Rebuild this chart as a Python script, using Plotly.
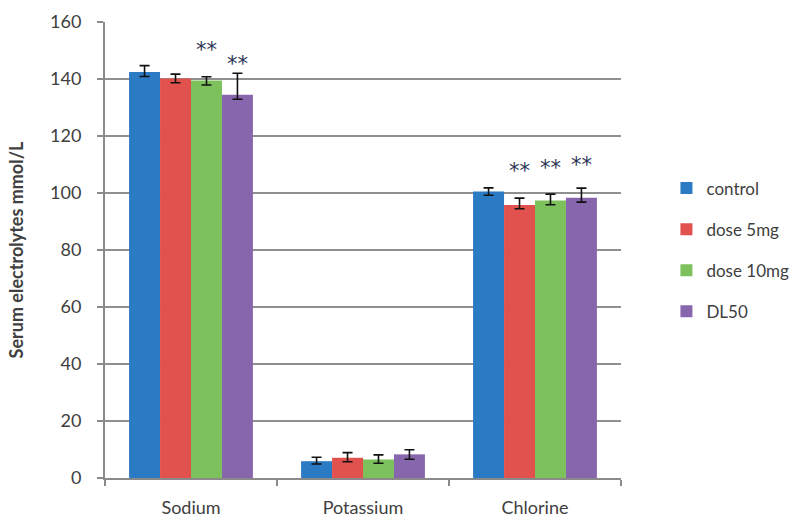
import plotly.graph_objects as go

categories = ["Sodium", "Potassium", "Chlorine"]
series_names = ["control", "dose 5mg", "dose 10mg", "DL50"]
colors = ["#2b7bc4", "#e1524f", "#7cc15c", "#8866ae"]

control = [142.5, 5.9, 100.5]
dose_5mg = [140.2, 7.1, 95.8]
dose_10mg = [139.5, 6.5, 97.4]
dl50 = [134.5, 8.3, 98.3]

err_plus_control = [2.2, 1.4, 1.3]
err_minus_control = [1.6, 1.0, 1.3]
err_plus_5mg = [1.5, 1.8, 2.4]
err_minus_5mg = [1.5, 1.4, 1.3]
err_plus_10mg = [1.3, 1.6, 2.2]
err_minus_10mg = [1.6, 1.3, 1.5]
err_plus_dl50 = [7.5, 1.6, 3.4]
err_minus_dl50 = [1.6, 1.7, 1.5]

# significance marks ("**") and the height where each one sits
stars_control = [None, None, None]
stars_5mg = [None, None, 107.0]
stars_10mg = [149.5, None, 108.3]
stars_dl50 = [144.5, None, 109.3]

values = [control, dose_5mg, dose_10mg, dl50]
err_plus = [err_plus_control, err_plus_5mg, err_plus_10mg, err_plus_dl50]
err_minus = [err_minus_control, err_minus_5mg, err_minus_10mg, err_minus_dl50]
stars = [stars_control, stars_5mg, stars_10mg, stars_dl50]

FONT = "Lato"
TEXT = "#404040"
STAR = "#2b3556"

fig = go.Figure()
for i, name in enumerate(series_names):
    fig.add_trace(go.Bar(
        x=categories, y=values[i], name=name,
        marker=dict(color=colors[i], line=dict(width=0)),
        error_y=dict(type="data", symmetric=False, array=err_plus[i],
                     arrayminus=err_minus[i], color="#111111",
                     thickness=1.6, width=5),
        legendgroup=name,
    ))

for i, name in enumerate(series_names):
    fig.add_trace(go.Scatter(
        x=categories, y=stars[i], mode="text",
        text=["**" if s is not None else "" for s in stars[i]],
        textposition="middle center",
        textfont=dict(family="DejaVu Sans", size=21, color=STAR),
        marker=dict(color=STAR),
        showlegend=False, hoverinfo="skip", cliponaxis=False,
    ))

fig.update_layout(
    width=801, height=526,
    margin=dict(l=105, r=180, t=22, b=48),
    paper_bgcolor="white", plot_bgcolor="white",
    barmode="group", bargap=0.28, bargroupgap=0,
    scattermode="group", scattergap=0.28,
    font=dict(family=FONT, color=TEXT, size=17),
    legend=dict(xref="container", x=0.832, xanchor="left",
                y=0.5, yanchor="middle",
                traceorder="grouped", tracegroupgap=16,
                font=dict(family=FONT, size=17, color=TEXT),
                itemwidth=30, bgcolor="rgba(0,0,0,0)"),
    showlegend=True,
)

fig.update_xaxes(
    automargin=False,
    showline=True, linecolor="#8a8a8a", linewidth=2,
    ticks="outside", tickson="boundaries", ticklen=6,
    tickcolor="#8a8a8a", tickwidth=1.5,
    tickfont=dict(family=FONT, size=18, color=TEXT),
    ticklabelstandoff=12,
    showgrid=False,
)
fig.update_yaxes(
    automargin=False,
    range=[0, 160], dtick=20,
    showline=True, linecolor="#8a8a8a", linewidth=2,
    ticks="outside", ticklen=6, tickcolor="#8a8a8a", tickwidth=1.5,
    showgrid=True, gridcolor="#8f8f8f", gridwidth=1.5,
    zeroline=False,
    tickfont=dict(family=FONT, size=18, color=TEXT),
    ticklabelstandoff=12,
    title=dict(text="<b>Serum electrolytes mmol/L</b>",
               font=dict(family=FONT, size=18, color=TEXT), standoff=22),
)

fig.write_html("out.html")
